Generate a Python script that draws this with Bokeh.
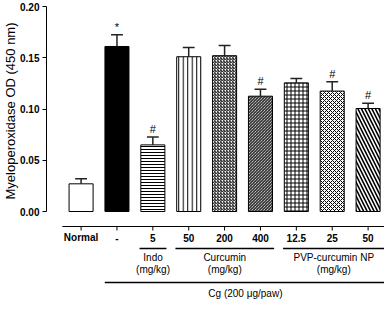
import math
from bokeh.plotting import figure
from bokeh.models import ColumnDataSource, FixedTicker, Range1d, NumeralTickFormatter, Title
from bokeh.core.properties import value
from bokeh.embed import file_html
from bokeh.resources import INLINE

# ---- data ----
bar_labels = ["Normal", "-", "5", "50", "200", "400", "12.5", "25", "50"]
means = [0.027, 0.161, 0.065, 0.151, 0.152, 0.1125, 0.1255, 0.1175, 0.1005]
errors = [0.005, 0.0115, 0.0078, 0.009, 0.010, 0.0068, 0.0042, 0.009, 0.0052]
marks = ["", "*", "#", "", "", "#", "", "#", "#"]
fills = ["white", "black", "white", "white", "white", "white", "white", "white", "white"]
hatches = [" ", " ", "-", "|", "/", "\\", "+", "x", "\\"]
hatch_scales = [6, 6, 3, 4.5, 3, 3, 4, 4, 7]
hatch_weights = [1, 1, 1, 1, 1, 1, 1, 1, 1.6]
group_names = ["Indo", "Curcumin", "PVP-curcumin NP"]
group_units = ["(mg/kg)", "(mg/kg)", "(mg/kg)"]
group_first = [2, 3, 6]
group_last = [2, 5, 8]
cg_label = "Cg (200 \u03bcg/paw)"
y_ticks = [0.0, 0.05, 0.10, 0.15, 0.20]
y_label = "Myeloperoxidase OD (450 nm)"

FONT = "Liberation Sans"
W, H = 384, 301
LEFT = 42
spacing_px = 36.3
first_px = 35
x_start = -first_px / spacing_px
x_end = x_start + (W - LEFT) / spacing_px
y_top_px, y_zero_px = 6, 211
ppu = (y_zero_px - y_top_px) / 0.2
y_end = 0.2 + y_top_px / ppu
y_start = -(H - y_zero_px) / ppu


def below(px):
    return -px / ppu


xs = list(range(len(bar_labels)))
tops = [m + e for m, e in zip(means, errors)]

p = figure(width=W, height=H, output_backend="svg", toolbar_location=None,
           x_range=Range1d(x_start, x_end), y_range=Range1d(y_start, y_end),
           x_axis_location=None, min_border_left=LEFT, min_border_right=0,
           min_border_top=0, min_border_bottom=0)
p.outline_line_color = None
p.grid.visible = False
p.background_fill_color = "white"

ax = p.yaxis[0]
ax.ticker = FixedTicker(ticks=y_ticks)
ax.formatter = NumeralTickFormatter(format="0.00")
ax.bounds = (0, 0.2)
ax.major_tick_out = 4
ax.major_tick_in = 0
ax.minor_tick_line_color = None
ax.major_label_text_font = FONT
ax.major_label_text_font_style = "bold"
ax.major_label_text_font_size = "10px"
ax.major_label_standoff = 3
ax.axis_line_color = "black"
ax.major_tick_line_color = "black"
ax.major_label_text_color = "black"

src = ColumnDataSource(dict(x=xs, top=means, fill=fills, hatch=hatches,
                            hs=hatch_scales, hw=hatch_weights))
p.vbar(x="x", top="top", bottom=0, width=0.67, source=src, fill_color="fill",
       line_color="black", line_width=1, hatch_pattern="hatch", hatch_scale="hs",
       hatch_weight="hw", hatch_color="black")

# error bars (upper only)
p.segment(x0=xs, y0=means, x1=xs, y1=tops, line_color="#222222", line_width=1.5)
p.segment(x0=[x - 0.165 for x in xs], y0=tops, x1=[x + 0.165 for x in xs], y1=tops,
          line_color="#222222", line_width=1.5)

# significance marks
p.text(x=xs, y=[t + 2 / ppu for t in tops], text=marks, text_align="center",
       text_baseline="bottom", text_font=value(FONT), text_font_size="11px",
       text_color="black")

# detached x axis
p.segment(x0=[-19 / spacing_px], y0=[below(15)], x1=[x_end], y1=[below(15)],
          line_color="black", line_width=1)
p.segment(x0=xs, y0=below(15), x1=xs, y1=below(19), line_color="black", line_width=1)
p.text(x=xs, y=below(26), text=bar_labels, text_align="center", text_baseline="middle",
       text_font=value(FONT), text_font_style="bold", text_font_size="10px",
       text_color="black")

# treatment groups
g_x0 = [f - 0.37 for f in group_first]
g_x1 = [l + 0.38 for l in group_last]
g_x1[-1] = min(g_x1[-1] + 0.1, x_end)
g_c = [(a + b) / 2 for a, b in zip(g_x0, g_x1)]
p.segment(x0=g_x0, y0=below(37), x1=g_x1, y1=below(37), line_color="black", line_width=1.3)
p.text(x=g_c, y=below(46), text=group_names, text_align="center", text_baseline="middle",
       text_font=value(FONT), text_font_size="10px", text_color="black")
p.text(x=g_c, y=below(58), text=group_units, text_align="center", text_baseline="middle",
       text_font=value(FONT), text_font_size="10px", text_color="black")

# carrageenan line
cg_x0, cg_x1 = 1 - 0.34, 8 + 0.5
p.segment(x0=[cg_x0], y0=[below(71)], x1=[cg_x1], y1=[below(71)], line_color="black",
          line_width=1.3)
p.text(x=[(cg_x0 + cg_x1) / 2], y=[below(82)], text=[cg_label], text_align="center",
       text_baseline="middle", text_font=value(FONT), text_font_size="10px",
       text_color="black")

# y axis title (vertical title in the left panel, starting above the x-axis area)
p.add_layout(Title(text=y_label, align="left", offset=H - y_zero_px + 12, standoff=0,
                   text_font=FONT, text_font_size="13px", text_font_style="normal",
                   text_color="black"), "left")

open("out.html", "w").write(file_html(p, INLINE))
